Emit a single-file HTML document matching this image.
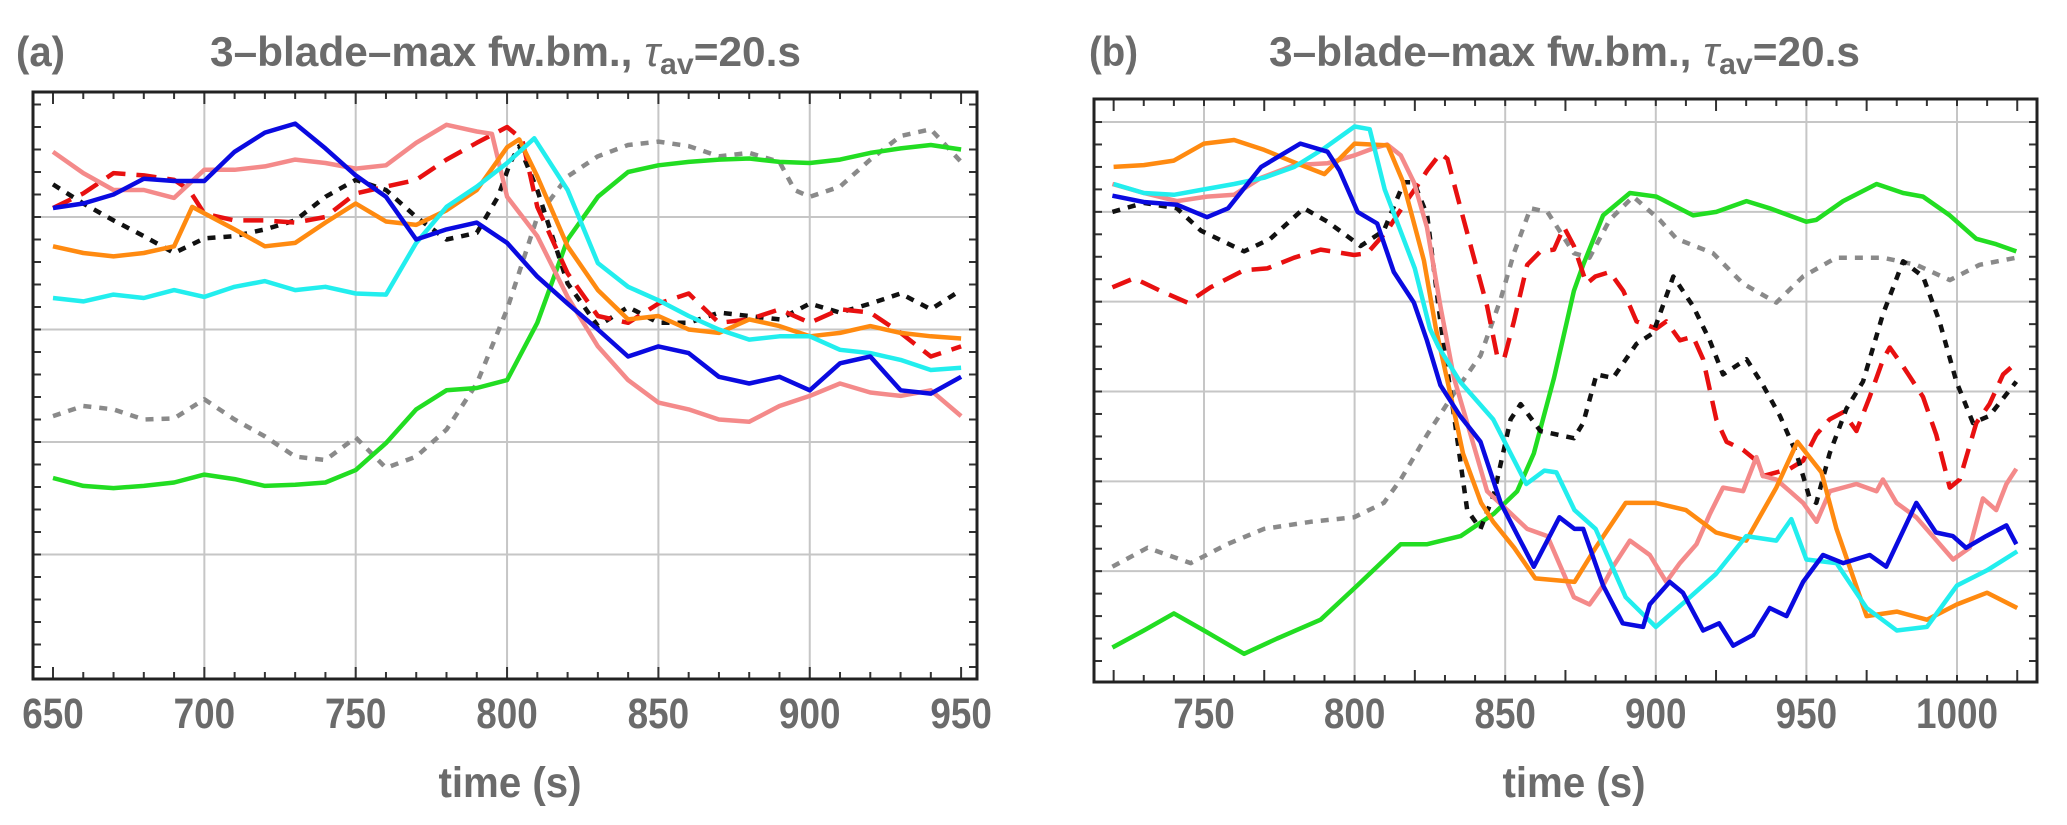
<!DOCTYPE html>
<html><head><meta charset="utf-8"><style>
html,body{margin:0;padding:0;background:#fff;}
svg{display:block;}
text{font-family:"Liberation Sans",sans-serif;font-weight:bold;fill:#6b6b6b;}
</style></head>
<body>
<svg id="fig" width="2067" height="825" viewBox="0 0 2067 825" xmlns="http://www.w3.org/2000/svg">
<g id="panelA"></g>
<g id="panelB"></g>
</svg>
<script>
// ---------- Panel (a) data: time (s) and values (grid units x100) ----------
const aTimes = [650,660,670,680,690,700,710,720,730,740,750,760,770,780,790,800,810,820,830,840,850,860,870,880,890,900,910,920,930,940,950];
const aBlue  = [408,412,420,434,432,432,458,475,483,461,437,418,380,389,395,377,347,323,300,276,285,279,258,252,258,246,270,276,246,243,258];
const aGreen = [168,161,159,161,164,171,167,161,162,164,175,199,229,246,248,255,306,380,418,440,446,449,451,452,449,448,451,457,461,464,460];
const aPinkT = [650,660,670,680,690,700,710,720,730,740,750,760,770,780,790,795,800,810,820,830,840,850,860,870,880,890,900,910,920,930,940,950];
const aPink  = [458,439,424,424,417,442,442,445,451,448,443,446,466,482,476,474,418,383,329,285,255,235,229,220,218,232,241,252,244,241,246,223];
const aRedT  = [650,660,670,680,690,695,700,710,720,730,740,750,760,770,780,790,800,805,810,820,830,840,850,860,870,880,890,900,910,920,930,940,950];
const aRed   = [408,421,439,437,433,424,403,397,397,395,400,421,427,433,451,466,480,469,409,350,312,306,323,332,306,309,318,306,318,315,297,276,285];
const aBlackT= [650,660,670,680,690,700,710,720,730,740,750,760,770,780,790,797,801,804,810,820,830,840,850,860,870,880,890,900,910,920,930,940,950];
const aBlack = [429,412,397,383,368,381,383,389,397,418,433,424,400,380,386,418,448,463,424,341,303,320,306,306,315,312,309,323,315,323,332,318,335];
const aOrangeT=[650,660,670,680,690,696,710,720,730,740,750,760,770,780,790,800,804,810,820,830,840,850,860,870,880,890,900,910,920,930,940,950];
const aOrange= [374,368,365,368,374,409,389,374,377,395,412,396,393,406,424,462,469,436,374,335,309,312,300,297,309,303,294,297,303,297,294,292];
const aCyanT = [650,660,670,680,690,700,710,720,730,740,750,760,770,780,790,800,809,820,830,840,850,860,870,880,890,900,910,920,930,940,950];
const aCyan  = [328,325,331,328,335,329,338,343,335,338,332,331,377,409,427,448,470,424,359,338,326,312,300,291,294,294,282,279,273,264,266];
const aGrayT = [650,660,670,680,690,700,710,720,730,740,750,760,770,780,790,800,810,820,830,840,850,860,870,880,890,895,900,910,920,930,940,950];
const aGray  = [223,232,229,220,221,238,220,205,187,184,204,177,187,211,252,318,400,436,454,464,467,463,454,457,449,424,418,427,451,472,478,449];
const aTickLabels = ["650","700","750","800","850","900","950"];

// ---------- Panel (b) data ----------
const bOrangeT=[720,730,740,750,760,770,780,790,800,811,816,823,827,832,836,842,846,853,860,873,880,890,900,910,920,930,940,947,955,960,970,980,990,1000,1010,1020];
const bOrange= [550,552,557,576,580,569,555,542,576,574,534,446,370,294,231,176,155,126,92,88,126,176,176,168,143,134,193,244,210,147,50,55,46,63,76,59];
const bCyanT = [720,730,740,750,760,770,780,790,800,805,810,820,825,828,835,846,857,863,867,873,880,890,900,910,920,930,940,945,950,960,970,980,990,1000,1010,1020];
const bCyan  = [531,521,519,525,531,538,550,571,595,592,525,437,370,349,311,269,197,212,210,168,147,71,38,67,97,139,134,158,113,109,59,34,38,84,101,122];
const bBlueT = [719.6,730,741,751,758,769,782,791,795,801,807.5,813,819.7,824,828.5,835,841.8,848.5,859.5,868,873,875.9,882.5,889,895.8,898,904.6,909,915.7,921,925.7,932.3,937.8,943.4,948.9,955.5,962.2,971,976.5,986.5,993,998.6,1003,1009.7,1016.4,1019.7];
const bBlue  = [518,511,508,494,504,550,576,567,546,500,487,433,399,357,307,273,244,176,105,160,147,147,84,42,38,63,88,76,34,42,17,29,59,50,88,118,109,118,105,176,143,139,126,139,151,130];
const bPinkT = [719.6,730,741,751,760,769,780,791,800,806.4,810.8,815.3,819.7,824,828.5,833,838.5,844,850.7,857.3,864,868.4,872.8,878,882.5,885.8,891.4,898,903.5,908,913.5,918,922.3,929,933.4,935.6,940,944.5,948.9,953.4,957.8,966.6,973.3,975.4,979.9,986.5,990.9,998.7,1004.2,1008.6,1013,1016.4,1019.7];
const bPink  = [531,521,512,517,519,538,552,554,563,571,575,563,533,483,395,315,252,189,168,147,139,105,71,63,84,105,134,118,88,109,130,164,193,189,227,206,202,189,176,155,189,197,189,202,176,160,143,113,126,181,168,197,214];
const bRedT  = [719.6,726.8,735.6,744.5,752.2,763.3,771,779.9,788.7,799.8,804.2,810.8,816.4,820.8,824.1,828.5,830.8,835.2,839.6,844,847.3,849.6,852.9,857.3,861.7,866.2,869.5,872.8,877,879.9,884.7,889.2,893.6,900.2,903.5,908,912.4,915.7,920.1,923.5,929,933.4,935.6,940,944.5,948.9,953.3,957.7,962.2,966.6,971,975.5,977.7,982.1,988.7,993.1,997.6,1000.9,1006.4,1010.8,1015.3,1019.7];
const bRed   = [416,426,412,399,416,435,437,449,458,452,454,479,508,529,546,565,559,504,449,395,340,336,378,441,456,458,483,462,420,428,433,412,378,370,378,357,361,336,269,244,235,223,206,210,214,223,252,269,277,256,294,336,349,328,294,252,193,202,265,286,319,332];
const bBlackT= [719.6,730,741,749,763.3,772,783.2,791,802,809.7,816.4,819.7,824.1,828.5,833,837.4,841.8,846.2,851.8,855.1,861.7,872.8,875.9,880.3,885.8,893.6,899.1,905.8,912.4,917.9,922.3,930.1,935.6,941.2,946.7,951.1,953.3,957.7,963.3,968.8,975.4,982.1,988.7,994.2,999.8,1005.3,1010.8,1019.7];
const bBlack = [500,510,504,479,456,470,504,489,462,479,533,533,496,378,273,168,147,185,269,286,256,248,265,319,315,353,365,428,395,357,319,336,307,273,231,181,176,231,281,311,386,445,428,378,311,265,273,311];
const bGrayT = [719.6,731.2,745.6,757.7,769.9,785.4,799.8,809.7,815.3,824.1,833,841.8,848.5,852.9,858.4,864,872.8,878,884.7,892.5,901.3,906.9,919,929,940,948.9,959.9,975.4,986.5,997.6,1007.5,1019.7];
const bGray  = [105,126,109,130,147,155,160,176,202,252,298,340,403,454,504,500,454,449,491,517,491,470,454,420,399,428,449,449,441,424,441,449];
const bGreenT= [719.6,730,740,750,763.3,774.3,788.7,800.9,815.3,824.1,835.2,846.2,854,859.5,866.2,872.8,875.9,882.5,891.4,900.2,912.4,920.1,930.1,937.8,950,953.3,962.2,973.3,982.1,988.7,997.6,1006.4,1013,1019.7];
const bGreen = [15,34,53,34,8,25,46,84,130,130,139,164,189,231,315,412,441,496,521,517,496,500,512,504,489,491,512,531,521,517,496,470,464,456];
const bTickLabels = ["750","800","850","900","950","1000"];

const NS = "http://www.w3.org/2000/svg";
function mk(parent, tag, attrs){
  const e = document.createElementNS(NS, tag);
  for (const k in attrs) e.setAttribute(k, attrs[k]);
  parent.appendChild(e);
  return e;
}

function drawPanel(g, cfg){
  const xs = t => cfg.x0 + (t - cfg.t0) * cfg.pxs;
  const ys = v => cfg.yZero - (v / 100) * cfg.gridPx;
  // gridlines
  for (const t of cfg.vGrid){
    const l = mk(g,'line',{x1:xs(t),x2:xs(t),y1:cfg.top,y2:cfg.bottom,stroke:'#c6c6c6','stroke-width':2});
    
    
  }
  for (const k of cfg.hGrid){
    const l = mk(g,'line',{x1:cfg.left,x2:cfg.right,y1:ys(k*100),y2:ys(k*100),stroke:'#c6c6c6','stroke-width':2});
    
    
  }
  // x ticks
  for (let t = cfg.tickStart; t <= cfg.tickEnd + 0.01; t += 10){
    const major = Math.abs(((t - cfg.tickStart) % 50)) < 0.01;
    const len = major ? 12 : 7;
    const b = mk(g,'line',{x1:xs(t),x2:xs(t),y1:cfg.bottom,y2:cfg.bottom-len,stroke:'#333','stroke-width':2});
    
    
    const tp = mk(g,'line',{x1:xs(t),x2:xs(t),y1:cfg.top,y2:cfg.top+len,stroke:'#333','stroke-width':2});
    
    
  }
  // y ticks
  for (let v = cfg.yTickMin; v <= cfg.yTickMax + 0.001; v += cfg.yTickStep){
    const y = ys(v*100);
    if (y < cfg.top + 2 || y > cfg.bottom - 2) continue;
    const l = mk(g,'line',{x1:cfg.left,x2:cfg.left+8,y1:y,y2:y,stroke:'#333','stroke-width':2});
    
    
    const r = mk(g,'line',{x1:cfg.right,x2:cfg.right-8,y1:y,y2:y,stroke:'#333','stroke-width':2});
    
    
  }
  // series
  const clip = 'clip-' + cfg.id;
  const defs = mk(g,'defs',{});
  const cp = mk(defs,'clipPath',{id:clip});
  mk(cp,'rect',{x:cfg.left,y:cfg.top,width:cfg.right-cfg.left,height:cfg.bottom-cfg.top});
  const sg = mk(g,'g',{'clip-path':'url(#'+clip+')'});
  
  
  for (const s of cfg.series){
    const d = s.t.map((t,i)=> (i?'L':'M') + xs(t).toFixed(1) + ' ' + ys(s.v[i]).toFixed(1)).join(' ');
    const attrs = {d:d,fill:'none',stroke:s.color,'stroke-width':4.5,'stroke-linejoin':'round'};
    if (s.dash) attrs['stroke-dasharray'] = s.dash;
    const p = mk(sg,'path',attrs);
    
    
  }
  // frame
  const fr = mk(g,'rect',{x:cfg.left,y:cfg.top,width:cfg.right-cfg.left,height:cfg.bottom-cfg.top,fill:'none',stroke:'#222','stroke-width':3});
  
  
  // tick labels
  cfg.labels.forEach((lab,i)=>{
    const t = cfg.labelStart + 50*i;
    const tx = mk(g,'text',{x:xs(t),y:728,'font-size':43,'text-anchor':'middle',textLength:lab.length*20.5,lengthAdjust:'spacingAndGlyphs'});
    tx.textContent = lab;
    
    
  });
  const at = mk(g,'text',{x:cfg.titleX,y:797,'font-size':43,'text-anchor':'middle',textLength:143,lengthAdjust:'spacingAndGlyphs'});
  at.textContent = 'time (s)';
  
  
  // panel letter
  const pl = mk(g,'text',{x:cfg.letterX,y:66,'font-size':42,textLength:49,lengthAdjust:'spacingAndGlyphs'});
  pl.textContent = cfg.letter;
  
  
  // title
  const tt = mk(g,'text',{x:cfg.titleLeft,y:66,'font-size':42});
  
  
  const s1 = mk(tt,'tspan',{}); s1.textContent = '3\u2013blade\u2013max fw.bm., ';
  const s2 = mk(tt,'tspan',{'font-style':'italic','font-weight':'normal'}); s2.textContent = '\u03C4';
  const s3 = mk(tt,'tspan',{'font-size':30,dy:8}); s3.textContent = 'av';
  const s4 = mk(tt,'tspan',{dy:-8}); s4.textContent = '=20.s';
  tt.setAttribute('textLength', 591);
  tt.setAttribute('lengthAdjust','spacingAndGlyphs');
}

drawPanel(document.getElementById('panelA'), {
  id:'a', left:33, right:977, top:92, bottom:679,
  x0:53, t0:650, pxs:3.027, yZero:667, gridPx:112.5,
  vGrid:[700,750,800,850,900], hGrid:[1,2,3,4],
  tickStart:650, tickEnd:950, yTickMin:0, yTickMax:5.2, yTickStep:0.2,
  labels:aTickLabels, labelStart:650, titleX:510, letterX:16, letter:'(a)', titleLeft:210,
  series:[
    {name:'gray-dotted-series', t:aGrayT, v:aGray, color:'#8a8a8a', dash:'8 8'},
    {name:'green-series', t:aTimes, v:aGreen, color:'#22dd22'},
    {name:'black-dotted-series', t:aBlackT, v:aBlack, color:'#111', dash:'8 8'},
    {name:'red-dashed-series', t:aRedT, v:aRed, color:'#e81010', dash:'20 11'},
    {name:'pink-series', t:aPinkT, v:aPink, color:'#f48a8a'},
    {name:'orange-series', t:aOrangeT, v:aOrange, color:'#ff8a10'},
    {name:'cyan-series', t:aCyanT, v:aCyan, color:'#22eeee'},
    {name:'blue-series', t:aTimes, v:aBlue, color:'#0a0ae0'}
  ]
});
drawPanel(document.getElementById('panelB'), {
  id:'b', left:1094, right:2037, top:99, bottom:682,
  x0:1204, t0:750, pxs:3.012, yZero:661, gridPx:89.83,
  vGrid:[750,800,850,900,950,1000], hGrid:[1,2,3,4,5,6],
  tickStart:720, tickEnd:1020, yTickMin:0, yTickMax:6.25, yTickStep:0.25,
  labels:bTickLabels, labelStart:750, titleX:1574, letterX:1089, letter:'(b)', titleLeft:1269,
  series:[
    {name:'gray-dotted-series', t:bGrayT, v:bGray, color:'#8a8a8a', dash:'8 8'},
    {name:'green-series', t:bGreenT, v:bGreen, color:'#22dd22'},
    {name:'red-dashed-series', t:bRedT, v:bRed, color:'#e81010', dash:'20 11'},
    {name:'black-dotted-series', t:bBlackT, v:bBlack, color:'#111', dash:'8 8'},
    {name:'pink-series', t:bPinkT, v:bPink, color:'#f48a8a'},
    {name:'orange-series', t:bOrangeT, v:bOrange, color:'#ff8a10'},
    {name:'cyan-series', t:bCyanT, v:bCyan, color:'#22eeee'},
    {name:'blue-series', t:bBlueT, v:bBlue, color:'#0a0ae0'}
  ]
});
</script>
</body></html>
